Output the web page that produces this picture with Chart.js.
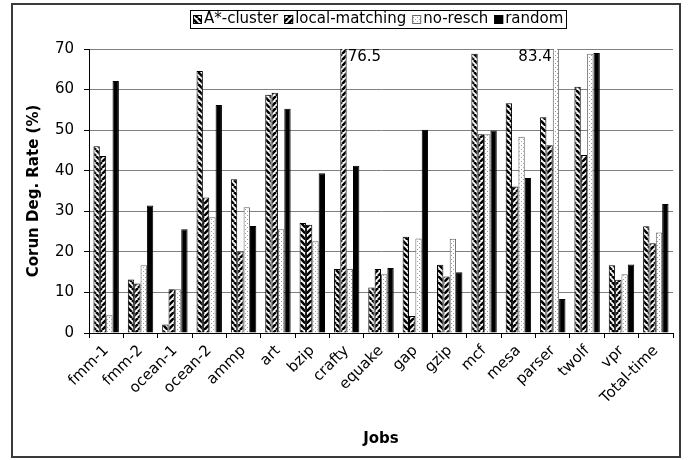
<!DOCTYPE html>
<html>
<head>
<meta charset="utf-8">
<script src="https://cdn.jsdelivr.net/npm/chart.js@4.4.1/dist/chart.umd.min.js"></script>
<style>
  html, body { margin: 0; padding: 0; background: #fff; }
  #wrap { width: 688px; height: 460px; position: relative; }
</style>
</head>
<body>
<div id="wrap"><canvas id="c" width="688" height="460"></canvas></div>
<script>
// Degradation rate (%) per job for each scheduling policy
const jobs = ['fmm-1', 'fmm-2', 'ocean-1', 'ocean-2', 'ammp', 'art', 'bzip', 'crafty', 'equake',
              'gap', 'gzip', 'mcf', 'mesa', 'parser', 'twolf', 'vpr', 'Total-time'];
const seriesNames = ['A*-cluster', 'local-matching', 'no-resch', 'random'];
const aStarCluster  = [46.0, 13.2,  2.1, 64.6, 37.9, 58.7, 27.1, 15.8, 11.2, 23.7, 16.8, 68.8, 56.6, 53.2, 60.7, 16.7, 26.3];
const localMatching = [43.6, 12.2, 10.8, 33.4, 20.1, 59.2, 26.7, 76.5, 15.8,  4.2, 13.9, 49.0, 36.1, 46.3, 43.9, 13.1, 22.1];
const noResch       = [ 4.4, 16.7, 10.8, 28.5, 31.0, 25.6, 22.6, 15.8, 14.5, 23.3, 23.2, 49.0, 48.4, 83.4, 68.8, 14.5, 24.8];
const random        = [62.1, 31.4, 25.6, 56.2, 26.4, 55.3, 39.4, 41.2, 16.0, 50.1, 15.0, 49.9, 38.2,  8.4, 69.0, 16.9, 31.8];
const yTicks = [0, 10, 20, 30, 40, 50, 60, 70];
// values that run past the top of the axis get their number printed beside the bar
const overflowLabels = [
  { series: 1, job: 'crafty', side: 'right' },
  { series: 2, job: 'parser', side: 'left' }
];

const FONT = "'DejaVu Sans', Verdana, sans-serif";
Chart.defaults.font.family = FONT;
Chart.defaults.font.size = 15;
Chart.defaults.color = '#000';

const canvas = document.getElementById('c');
const ctx = canvas.getContext('2d');

function stripePattern(dir) {
  const s = 6;
  const c = document.createElement('canvas');
  c.width = s; c.height = s;
  const g = c.getContext('2d');
  g.fillStyle = '#fff';
  g.fillRect(0, 0, s, s);
  g.strokeStyle = '#000';
  g.lineWidth = 2.6;
  for (const k of [-s, 0, s]) {
    g.beginPath();
    if (dir === 'down') { g.moveTo(k, 0); g.lineTo(k + s, s); }
    else { g.moveTo(k, s); g.lineTo(k + s, 0); }
    g.stroke();
  }
  return ctx.createPattern(c, 'repeat');
}

function dotPattern() {
  const c = document.createElement('canvas');
  c.width = 4; c.height = 4;
  const g = c.getContext('2d');
  g.fillStyle = '#fff';
  g.fillRect(0, 0, 4, 4);
  g.fillStyle = '#9a9a9a';
  g.fillRect(1, 1, 1, 1);
  g.fillRect(3, 3, 1, 1);
  return ctx.createPattern(c, 'repeat');
}

const fills = [stripePattern('down'), stripePattern('up'), dotPattern(), '#000'];
const borders = ['#000', '#000', '#666', '#000'];
const values = [aStarCluster, localMatching, noResch, random];

const datasets = seriesNames.map((name, i) => ({
  label: name,
  data: values[i],
  backgroundColor: fills[i],
  borderColor: borders[i],
  borderWidth: 1,
  clip: 0
}));

// outer frame, boxed legend and the out-of-range value labels
const decorations = {
  id: 'decorations',
  afterDatasetsDraw(chart) {
    const c = chart.ctx;
    const area = chart.chartArea;
    c.save();
    c.font = '15px ' + FONT;
    c.fillStyle = '#000';
    c.textBaseline = 'middle';
    overflowLabels.forEach(l => {
      const idx = jobs.indexOf(l.job);
      const bar = chart.getDatasetMeta(l.series).data[idx];
      const v = chart.data.datasets[l.series].data[idx];
      const half = bar.width / 2;
      if (l.side === 'right') {
        c.textAlign = 'left';
        c.fillText(v.toFixed(1), bar.x + half + 1, area.top + 8);
      } else {
        c.textAlign = 'right';
        c.fillText(v.toFixed(1), bar.x - half - 1, area.top + 8);
      }
    });
    c.restore();
  },
  afterDraw(chart) {
    const c = chart.ctx;
    c.save();
    c.strokeStyle = '#3a3a3a';
    c.lineWidth = 2;
    c.strokeRect(12, 4, 668, 453);

    // legend
    c.font = '15px ' + FONT;
    c.textBaseline = 'middle';
    c.textAlign = 'left';
    const box = 9, gapAfterBox = 2, itemGap = 6, pad = 3;
    const widths = seriesNames.map(n => c.measureText(n).width);
    let total = pad * 2 + itemGap * (seriesNames.length - 1);
    widths.forEach(w => { total += box + gapAfterBox + w; });
    const cx = 378, top = 10, h = 18;
    let x = Math.round(cx - total / 2);
    c.lineWidth = 1;
    c.strokeStyle = '#000';
    c.strokeRect(x + 0.5, top + 0.5, Math.round(total), h);
    x += pad;
    const midY = top + h / 2 + 0.5;
    chart.data.datasets.forEach((ds, i) => {
      const by = Math.round(midY - box / 2);
      c.fillStyle = ds.backgroundColor;
      c.fillRect(x, by, box, box);
      c.strokeStyle = ds.borderColor;
      c.strokeRect(x + 0.5, by + 0.5, box - 1, box - 1);
      x += box + gapAfterBox;
      c.fillStyle = '#000';
      c.fillText(ds.label, x, midY);
      x += widths[i] + itemGap;
    });
    c.restore();
  }
};

new Chart(ctx, {
  type: 'bar',
  data: { labels: jobs, datasets },
  options: {
    responsive: false,
    animation: false,
    events: [],
    layout: { padding: { top: 49, right: 15, left: 0, bottom: 0 } },
    datasets: { bar: { categoryPercentage: 0.74, barPercentage: 1 } },
    plugins: { legend: { display: false }, tooltip: { enabled: false } },
    scales: {
      x: {
        grid: { offset: true, drawOnChartArea: false, tickLength: 5, color: '#000', lineWidth: 1 },
        border: { color: '#000', width: 1 },
        ticks: { autoSkip: false, maxRotation: 45, minRotation: 45, padding: 4, color: '#000', font: { size: 15 } },
        title: { display: true, text: 'Jobs', color: '#000', font: { size: 15, weight: 'bold' }, padding: { top: 0, bottom: 12 } },
        afterFit(s) { s.height = 127; }
      },
      y: {
        min: yTicks[0],
        max: yTicks[yTicks.length - 1],
        afterBuildTicks(s) { s.ticks = yTicks.map(v => ({ value: v })); },
        ticks: { padding: 10, color: '#000', font: { size: 15 } },
        grid: { color: '#808080', lineWidth: 1, tickLength: 5, tickColor: '#000' },
        border: { color: '#000', width: 1 },
        title: { display: true, text: 'Corun Deg. Rate (%)', color: '#000', font: { size: 15, weight: 'bold' }, padding: { top: 25, bottom: 0 } },
        afterFit(s) { s.width = 89; }
      }
    }
  },
  plugins: [decorations]
});
</script>
</body>
</html>
